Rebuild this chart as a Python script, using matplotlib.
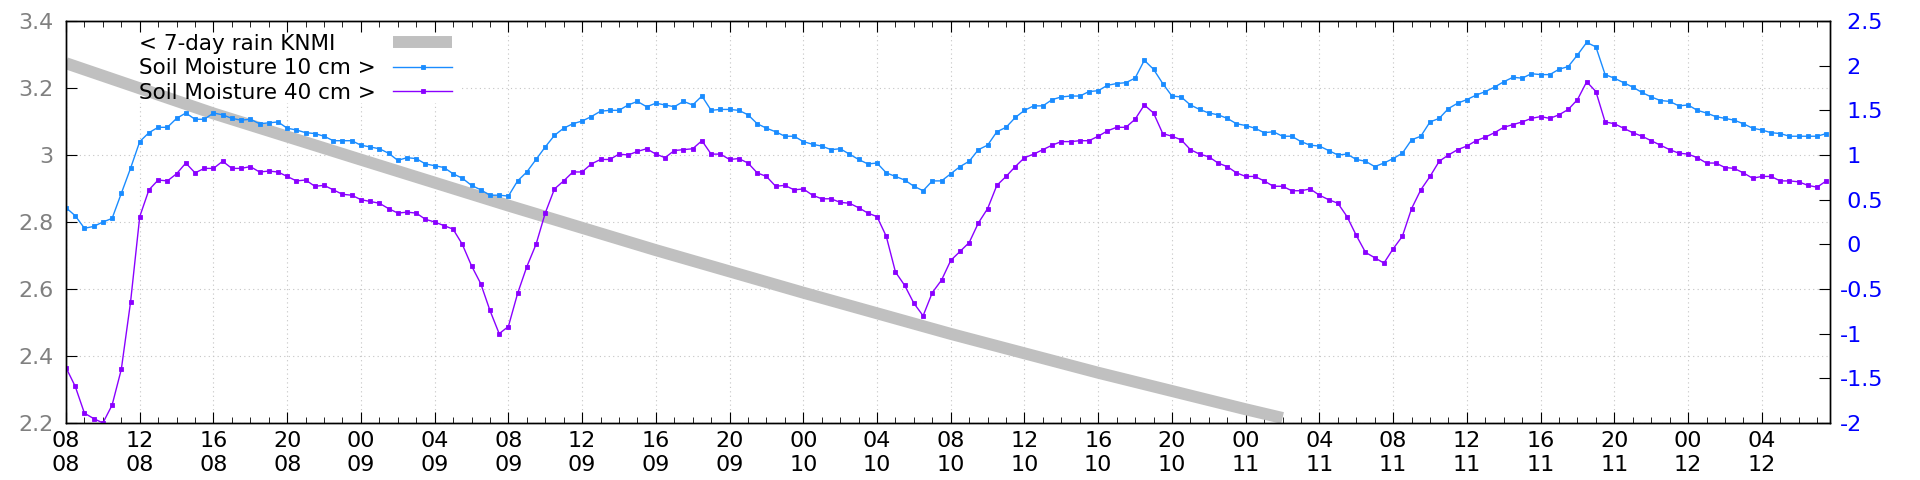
import numpy as np  # arrays for the series
import pandas as pd  # time stamps
import matplotlib
matplotlib.use("Agg")  # no display in the sandbox
import matplotlib.pyplot as plt  # the chart itself
import matplotlib.dates as mdates  # date ticks
from matplotlib.ticker import MultipleLocator, FuncFormatter
from matplotlib.patches import Rectangle

# DATA
START = pd.Timestamp("2024-08-08 08:00")  # first sample (08:00 on day 08)
STEP_MIN = 30  # minutes between the soil moisture samples

# Soil moisture 10 cm (right axis), one value every 30 minutes
soil_10cm = [
    0.41, 0.32, 0.18, 0.20, 0.25, 0.29, 0.57, 0.85, 1.15, 1.25, 1.31, 1.31, 1.41, 1.47, 1.40, 1.40,
    1.47, 1.45, 1.41, 1.39, 1.40, 1.35, 1.36, 1.37, 1.30, 1.28, 1.25, 1.24, 1.21, 1.16, 1.16, 1.16,
    1.11, 1.09, 1.07, 1.02, 0.94, 0.97, 0.96, 0.90, 0.88, 0.86, 0.79, 0.74, 0.66, 0.61, 0.55, 0.55,
    0.54, 0.71, 0.81, 0.95, 1.09, 1.22, 1.30, 1.35, 1.38, 1.43, 1.49, 1.50, 1.50, 1.56, 1.60, 1.54,
    1.58, 1.56, 1.54, 1.60, 1.56, 1.66, 1.50, 1.51, 1.51, 1.50, 1.45, 1.35, 1.30, 1.26, 1.21, 1.21,
    1.15, 1.12, 1.10, 1.06, 1.07, 1.01, 0.95, 0.90, 0.91, 0.80, 0.76, 0.72, 0.65, 0.60, 0.71, 0.71,
    0.79, 0.87, 0.93, 1.06, 1.11, 1.26, 1.31, 1.42, 1.50, 1.55, 1.55, 1.62, 1.65, 1.66, 1.66, 1.71,
    1.72, 1.78, 1.80, 1.81, 1.86, 2.06, 1.96, 1.80, 1.66, 1.65, 1.56, 1.51, 1.47, 1.45, 1.41, 1.35,
    1.33, 1.30, 1.25, 1.26, 1.21, 1.21, 1.15, 1.11, 1.10, 1.05, 1.00, 1.01, 0.95, 0.93, 0.87, 0.91,
    0.96, 1.02, 1.17, 1.21, 1.37, 1.41, 1.52, 1.58, 1.62, 1.67, 1.71, 1.76, 1.82, 1.87, 1.86, 1.91,
    1.90, 1.90, 1.96, 1.99, 2.12, 2.26, 2.21, 1.90, 1.86, 1.81, 1.76, 1.70, 1.65, 1.61, 1.60, 1.55,
    1.56, 1.50, 1.47, 1.43, 1.41, 1.39, 1.35, 1.30, 1.28, 1.25, 1.24, 1.21, 1.21, 1.21, 1.21, 1.24,
]

# Soil moisture 40 cm (right axis), same time stamps
soil_40cm = [
    -1.38, -1.59, -1.89, -1.95, -2.00, -1.80, -1.40, -0.65, 0.31, 0.61, 0.72, 0.71, 0.79, 0.91, 0.80, 0.85,
    0.85, 0.93, 0.85, 0.85, 0.87, 0.81, 0.82, 0.81, 0.76, 0.71, 0.72, 0.65, 0.66, 0.61, 0.56, 0.55,
    0.50, 0.48, 0.46, 0.40, 0.35, 0.36, 0.35, 0.28, 0.25, 0.21, 0.17, 0.00, -0.24, -0.44, -0.74, -1.00,
    -0.92, -0.55, -0.25, 0.00, 0.35, 0.62, 0.71, 0.81, 0.81, 0.90, 0.95, 0.95, 1.01, 1.00, 1.04, 1.07,
    1.01, 0.97, 1.05, 1.06, 1.07, 1.16, 1.01, 1.01, 0.95, 0.96, 0.91, 0.80, 0.76, 0.65, 0.66, 0.61,
    0.62, 0.55, 0.51, 0.51, 0.47, 0.46, 0.41, 0.35, 0.31, 0.09, -0.31, -0.46, -0.66, -0.80, -0.54, -0.40,
    -0.18, -0.08, 0.02, 0.24, 0.40, 0.66, 0.76, 0.87, 0.97, 1.01, 1.06, 1.11, 1.15, 1.15, 1.16, 1.16,
    1.21, 1.27, 1.31, 1.31, 1.40, 1.56, 1.47, 1.24, 1.21, 1.17, 1.06, 1.01, 0.98, 0.91, 0.87, 0.80,
    0.76, 0.76, 0.71, 0.65, 0.65, 0.60, 0.60, 0.62, 0.55, 0.50, 0.46, 0.31, 0.10, -0.09, -0.15, -0.21,
    -0.05, 0.09, 0.40, 0.61, 0.76, 0.93, 1.00, 1.06, 1.10, 1.16, 1.20, 1.25, 1.31, 1.34, 1.37, 1.41,
    1.43, 1.41, 1.45, 1.51, 1.62, 1.82, 1.71, 1.37, 1.35, 1.30, 1.25, 1.21, 1.16, 1.11, 1.06, 1.02,
    1.01, 0.97, 0.91, 0.91, 0.86, 0.85, 0.80, 0.74, 0.76, 0.76, 0.71, 0.71, 0.70, 0.66, 0.64, 0.71,
]

# 7-day rain KNMI (left axis), read every 8 hours until it leaves the plot
rain_hours = [0, 8, 16, 24, 32, 40, 48, 56, 64, 66]
rain_values = [3.274, 3.124, 2.986, 2.849, 2.716, 2.589, 2.466, 2.350, 2.241, 2.215]

# labels
LABEL_RAIN = "< 7-day rain KNMI"
LABEL_10 = "Soil Moisture 10 cm >"
LABEL_40 = "Soil Moisture 40 cm >"

# colours
C_RAIN = "#c0c0c0"
C_10 = "#1a8cff"
C_40 = "#8a00ff"
C_GRID = "#c4c4c4"

times = pd.date_range(START, periods=len(soil_10cm), freq=f"{STEP_MIN}min")
rain_times = START + pd.to_timedelta(rain_hours, unit="h")
x_end = START + pd.Timedelta(hours=95.7)  # right edge of the plot

fig = plt.figure(figsize=(19.2, 4.8), dpi=100)
rect = [66 / 1920, 1 - 423 / 480, (1830 - 66) / 1920, (423 - 21) / 480]

# background axes only for the dotted grid (the key box hides part of it)
axg = fig.add_axes(rect, zorder=0)
ax = fig.add_axes(rect, sharex=axg, zorder=1)  # left axis: rain
ax.patch.set_visible(False)
ax2 = ax.twinx()  # right axis: soil moisture
ax2.set_zorder(2)
ax2.patch.set_visible(False)

# rain line, thick and grey
ax.plot(rain_times, rain_values, color=C_RAIN, lw=8.6, solid_capstyle="butt", label=LABEL_RAIN)

# soil moisture lines with small square points
ax2.plot(times, soil_10cm, color=C_10, lw=1.0, marker="s", ms=2.8, mew=0.6, label=LABEL_10)
ax2.plot(times, soil_40cm, color=C_40, lw=1.0, marker="s", ms=2.8, mew=0.6, label=LABEL_40)

# limits
axg.set_xlim(START, x_end)
axg.set_ylim(2.2, 3.4)
ax.set_ylim(2.2, 3.4)
ax2.set_ylim(-2, 2.5)

# time ticks: every 4 hours labelled "hour / day", minor every hour
axg.xaxis.set_major_locator(mdates.HourLocator(byhour=[0, 4, 8, 12, 16, 20]))
axg.xaxis.set_minor_locator(mdates.HourLocator(interval=1))
axg.xaxis.set_major_formatter(mdates.DateFormatter("%H\n%d"))

# grid on the background axes
axg.yaxis.set_major_locator(MultipleLocator(0.2))
axg.grid(True, which="major", color=C_GRID, linestyle=(0, (1, 3)), lw=0.8)
axg.tick_params(which="both", length=0, labelbottom=False, labelleft=False)
for s in axg.spines.values():
    s.set_visible(False)
# white box behind the key so the grid does not cross it
axg.add_patch(Rectangle((0, 0.796), 0.2234, 0.204, transform=axg.transAxes,
                        facecolor="white", edgecolor="none", zorder=3))

# left axis
ax.yaxis.set_major_locator(MultipleLocator(0.2))
ax.yaxis.set_major_formatter(FuncFormatter(lambda v, p: f"{v:g}"))
ax.tick_params(axis="y", direction="in", left=True, right=False, length=8,
               labelsize=16, labelcolor="#808080", pad=9)
ax.tick_params(axis="x", which="both", direction="in", top=True, bottom=True,
               labelsize=16, pad=6)
ax.tick_params(axis="x", which="major", length=8)
ax.tick_params(axis="x", which="minor", length=4)

# right axis
ax2.yaxis.set_major_locator(MultipleLocator(0.5))
ax2.yaxis.set_major_formatter(FuncFormatter(lambda v, p: f"{v: g}"))
ax2.tick_params(axis="y", direction="in", right=True, length=8,
                labelsize=16, labelcolor="blue", pad=7)

for a in (ax, ax2):
    for s in a.spines.values():
        s.set_color("black")
        s.set_linewidth(1.0)

# key: text first (left aligned), sample after
LEG_FS = 15.5
TEXT_PAD = 0.8
h1, l1 = ax.get_legend_handles_labels()
h2, l2 = ax2.get_legend_handles_labels()
leg = ax2.legend(h1 + h2, l1 + l2, loc="upper left", bbox_to_anchor=(0.0414, 0.968),
                 frameon=False, markerfirst=False, fontsize=LEG_FS, numpoints=1,
                 handlelength=2.75, handletextpad=TEXT_PAD, labelspacing=0.21,
                 borderpad=0, borderaxespad=0)

# line the texts up on the left, keep the samples in one column
fig.canvas.draw()
renderer = fig.canvas.get_renderer()
widths = [t.get_window_extent(renderer).width for t in leg.get_texts()]
w_max = max(widths)
rows = leg._legend_handle_box.get_children()[0].get_children()
for row, w in zip(rows, widths):
    row.sep = TEXT_PAD * LEG_FS + (w_max - w) * 72 / fig.dpi

fig.savefig("out.png", dpi=100)
plt.close(fig)
